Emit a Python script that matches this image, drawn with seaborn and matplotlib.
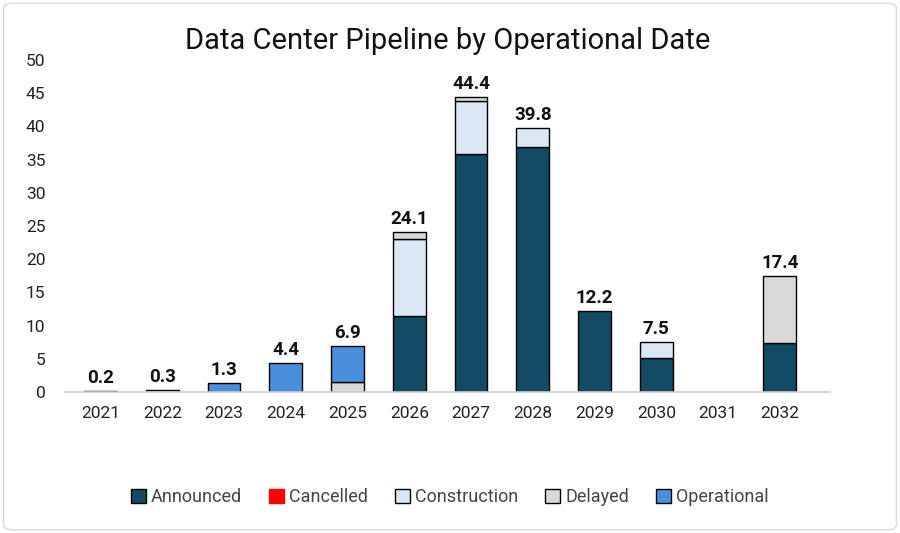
import numpy as np
import pandas as pd
import matplotlib.pyplot as plt
import seaborn as sns
from matplotlib.patches import Patch, FancyBboxPatch

years = ['2021', '2022', '2023', '2024', '2025', '2026', '2027', '2028', '2029', '2030', '2031', '2032']
statuses = ['Announced', 'Cancelled', 'Construction', 'Delayed', 'Operational']
announced = [0, 0, 0, 0, 0, 11.4, 35.9, 36.9, 12.2, 5.1, 0, 7.4]
cancelled = [0, 0, 0, 0, 0, 0, 0, 0, 0, 0, 0, 0]
construction = [0, 0, 0, 0, 0, 11.7, 7.9, 2.9, 0, 2.4, 0, 0]
delayed = [0, 0, 0, 0, 1.5, 1.0, 0.6, 0, 0, 0, 0, 10.0]
operational = [0.2, 0.3, 1.3, 4.4, 5.4, 0, 0, 0, 0, 0, 0, 0]
totals = [0.2, 0.3, 1.3, 4.4, 6.9, 24.1, 44.4, 39.8, 12.2, 7.5, None, 17.4]

colors = {'Announced': '#134a63', 'Cancelled': '#ff0000', 'Construction': '#dae8f6',
          'Delayed': '#d9d9d9', 'Operational': '#4a8fdb'}

data = pd.DataFrame({'year': years, 'Announced': announced, 'Cancelled': cancelled,
                     'Construction': construction, 'Delayed': delayed, 'Operational': operational})

sns.set_theme(style='white')
plt.rcParams['font.family'] = ['Roboto', 'DejaVu Sans']

fig, ax = plt.subplots(figsize=(9, 5.33), dpi=100)
fig.subplots_adjust(left=0.072, right=0.922, bottom=0.2645, top=0.8874)

bottom = np.zeros(len(years))
for s in statuses:
    sns.barplot(x='year', y=s, data=data, order=years, color=colors[s], ax=ax,
                width=0.53, edgecolor='black', linewidth=1.0, bottom=bottom.copy(),
                saturation=1, errorbar=None)
    bottom += data[s].values

for p in ax.patches:
    if p.get_height() == 0:
        p.set_linewidth(0)

for i, t in enumerate(totals):
    if t is not None:
        ax.text(i, t + 0.6, f'{t:.1f}', ha='center', va='bottom', fontsize=13.5,
                fontweight='bold', color='#111111')

ax.set_xlim(-0.58, 11.81)
ax.set_ylim(0, 50)
ax.set_yticks(range(0, 51, 5))
ax.set_xlabel('')
ax.set_ylabel('')
ax.tick_params(axis='both', labelsize=12.5, length=0, colors='#222222')
ax.tick_params(axis='x', pad=10)
ax.tick_params(axis='y', pad=14)
for side in ['left', 'right', 'top']:
    ax.spines[side].set_visible(False)
ax.spines['bottom'].set_color('#d0d0d0')
ax.spines['bottom'].set_linewidth(1.2)

ax.set_title('Data Center Pipeline by Operational Date', fontsize=21, pad=8, color='#111111')

handles = [Patch(facecolor=colors[s], edgecolor='black' if s != 'Cancelled' else colors[s],
                 linewidth=1) for s in statuses]
fig.legend(handles, statuses, loc='center', bbox_to_anchor=(0.5, 0.067), ncol=5,
           frameon=False, fontsize=13, handlelength=0.8, handleheight=0.8,
           handletextpad=0.3, columnspacing=1.5, labelcolor='#444444')

fig.patches.append(FancyBboxPatch((0.004, 0.006), 0.992, 0.988, boxstyle='round,pad=0,rounding_size=0.01',
                                  transform=fig.transFigure, facecolor='none',
                                  edgecolor='#d9d9d9', linewidth=1))

fig.savefig('out.png', dpi=100)
